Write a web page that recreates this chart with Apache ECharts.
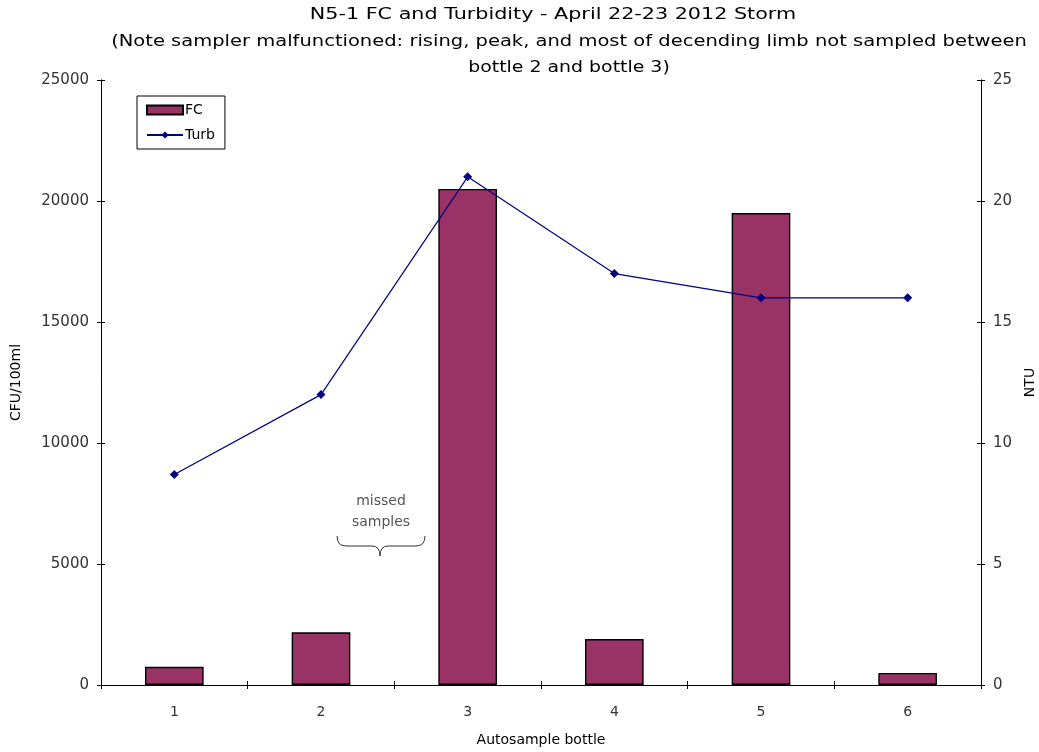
<!DOCTYPE html>
<html>
<head>
<meta charset="utf-8">
<title>N5-1 FC and Turbidity</title>
<script src="https://cdn.jsdelivr.net/npm/echarts@6/dist/echarts.min.js"></script>
<style>
  html, body { margin: 0; padding: 0; background: #fff; }
  #chart { width: 1039px; height: 752px; }
</style>
</head>
<body>
<div id="chart"></div>
<script>
// Autosampler bottles and measurements for the April 22-23 2012 storm
const bottles = ['1', '2', '3', '4', '5', '6'];
const fcValues = [750, 2180, 20500, 1900, 19500, 500];      // CFU/100ml
const turbValues = [8.7, 12, 21, 17, 16, 16];               // NTU
const leftTicks = { min: 0, max: 25000, interval: 5000 };
const rightTicks = { min: 0, max: 25, interval: 5 };

const FONT = 'DejaVu Sans';
const AXIS_COLOR = '#000';
const LABEL_COLOR = '#333';

const chart = echarts.init(document.getElementById('chart'), null, { renderer: 'canvas' });

const grid = {
  left: 101, right: 58, top: 80, bottom: 67,
  containLabel: false,
  outerBoundsMode: 'none'
};

// Ticks cross the axis line: an outward set plus an inward set on twin axes.
function valueAxis(pos, ticks, showLabel, inside, extra) {
  return Object.assign({
    type: 'value',
    position: pos,
    min: ticks.min, max: ticks.max, interval: ticks.interval,
    axisLine: { show: true, lineStyle: { color: AXIS_COLOR, width: 1 } },
    axisTick: { show: true, inside: inside, length: 4, lineStyle: { color: AXIS_COLOR } },
    axisLabel: {
      show: showLabel, color: LABEL_COLOR, fontFamily: FONT, fontSize: 15, margin: 12,
      formatter: function (v) { return String(v); }
    },
    splitLine: { show: false }
  }, extra || {});
}

function catAxis(showLabel, inside, extra) {
  return Object.assign({
    type: 'category',
    data: bottles,
    boundaryGap: true,
    axisLine: { show: true, lineStyle: { color: AXIS_COLOR, width: 1 } },
    axisTick: { show: true, inside: inside, length: 4, alignWithLabel: false, lineStyle: { color: AXIS_COLOR } },
    axisLabel: { show: showLabel, color: LABEL_COLOR, fontFamily: FONT, fontSize: 14, margin: 20 },
    splitLine: { show: false }
  }, extra || {});
}

function titleLine(text, x, y, sx) {
  return {
    type: 'text', x: x, y: y, scaleX: sx, z: 10,
    style: {
      text: text, align: 'center', verticalAlign: 'top',
      font: '15px "DejaVu Sans"', fill: '#000'
    }
  };
}

// Curly brace under the "missed samples" note
const braceColor = '#333';
function curve(x1, y1, cx, cy, x2, y2) {
  return {
    type: 'bezierCurve', z: 10,
    shape: { x1: x1, y1: y1, cpx1: cx, cpy1: cy, x2: x2, y2: y2 },
    style: { stroke: braceColor, lineWidth: 1, fill: null }
  };
}
function seg(x1, y1, x2, y2) {
  return {
    type: 'line', z: 10,
    shape: { x1: x1, y1: y1, x2: x2, y2: y2 },
    style: { stroke: braceColor, lineWidth: 1 }
  };
}

const option = {
  backgroundColor: '#fff',
  animation: false,
  grid: grid,
  legend: {
    orient: 'vertical',
    left: 137, top: 96,
    padding: [7, 10, 7, 9],
    itemGap: 11,
    itemWidth: 36, itemHeight: 9,
    backgroundColor: '#fff',
    borderColor: '#000', borderWidth: 1,
    textStyle: { fontFamily: FONT, fontSize: 14, color: '#000', padding: [0, 0, 0, -3] },
    data: [
      { name: 'FC', icon: 'rect' },
      { name: 'Turb' }
    ]
  },
  xAxis: [
    catAxis(true, false, {
      name: 'Autosample bottle',
      nameLocation: 'middle',
      nameGap: 48,
      nameTextStyle: { fontFamily: FONT, fontSize: 14, color: '#000' }
    }),
    catAxis(false, true, { position: 'bottom' })
  ],
  yAxis: [
    valueAxis('left', leftTicks, true, false, {
      name: 'CFU/100ml',
      nameLocation: 'middle',
      nameGap: 78,
      nameRotate: 90,
      nameTextStyle: { fontFamily: FONT, fontSize: 14, color: '#000' }
    }),
    valueAxis('right', rightTicks, true, false, {
      name: 'NTU',
      nameLocation: 'middle',
      nameGap: 42,
      nameRotate: 90,
      nameTextStyle: { fontFamily: FONT, fontSize: 14, color: '#000' }
    }),
    valueAxis('left', leftTicks, false, true),
    valueAxis('right', rightTicks, false, true)
  ],
  series: [
    {
      name: 'FC',
      type: 'bar',
      xAxisIndex: 0,
      yAxisIndex: 0,
      data: fcValues,
      barWidth: '40%',
      itemStyle: { color: '#993366', borderColor: '#000', borderWidth: 1.4 }
    },
    {
      name: 'Turb',
      type: 'line',
      xAxisIndex: 0,
      yAxisIndex: 1,
      data: turbValues,
      symbol: 'diamond',
      symbolSize: 9,
      lineStyle: { color: '#000080', width: 1.2 },
      itemStyle: { color: '#000080' },
      z: 5
    }
  ],
  graphic: [
    titleLine('N5-1 FC and Turbidity - April 22-23 2012 Storm', 553, 8, 1.38),
    titleLine('(Note sampler malfunctioned: rising, peak, and most of decending limb not sampled between', 569, 35, 1.3),
    titleLine('bottle 2 and bottle 3)', 569, 61, 1.26),
    {
      type: 'text', x: 381, y: 491, z: 10,
      style: {
        text: 'missed\nsamples',
        align: 'center', verticalAlign: 'top', lineHeight: 21,
        font: '14px "DejaVu Sans"', fill: '#555'
      }
    },
    curve(337, 536, 337, 546, 346, 546),
    seg(346, 546, 372, 546),
    curve(372, 546, 380, 546, 380, 556),
    curve(380, 556, 380, 546, 388, 546),
    seg(388, 546, 416, 546),
    curve(416, 546, 425, 546, 425, 536)
  ]
};

chart.setOption(option);
</script>
</body>
</html>
